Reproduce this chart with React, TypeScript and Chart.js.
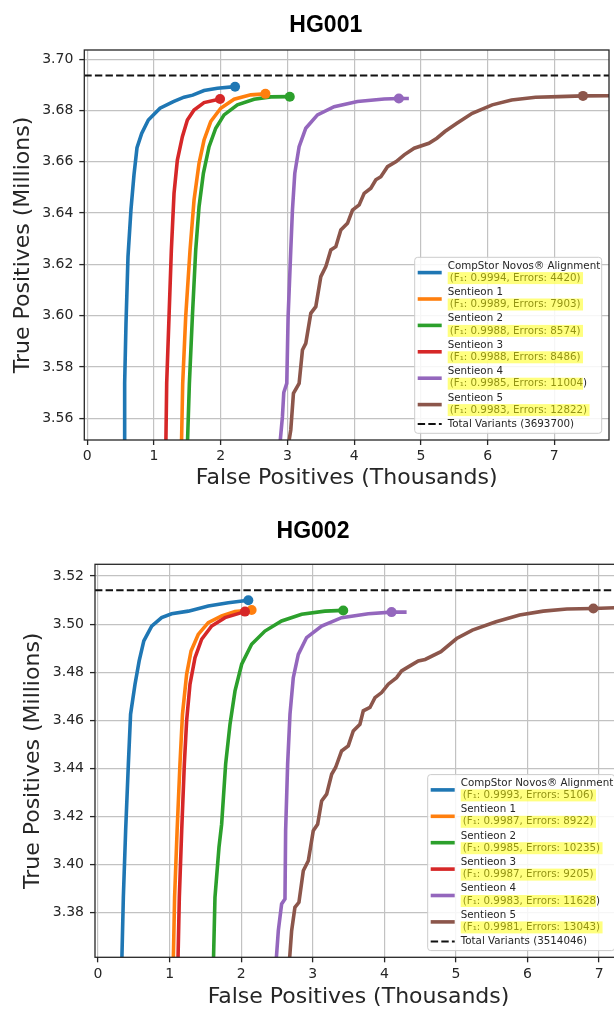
import React, { useEffect, useRef } from "react";
import { Chart, registerables } from "chart.js";

Chart.register(...registerables);

type Pt = [number, number];

// x: false positives (thousands), y: true positives (millions)
const xTicks = [0, 1, 2, 3, 4, 5, 6, 7];
const hg001YTicks = [3.56, 3.58, 3.6, 3.62, 3.64, 3.66, 3.68, 3.7];
const hg002YTicks = [3.38, 3.4, 3.42, 3.44, 3.46, 3.48, 3.5, 3.52];

const seriesNames = [
  "CompStor Novos® Alignment",
  "Sentieon 1",
  "Sentieon 2",
  "Sentieon 3",
  "Sentieon 4",
  "Sentieon 5",
];
const seriesColors = ["#1f77b4", "#ff7f0e", "#2ca02c", "#d62728", "#9467bd", "#8c564b"];
// the yellow marking stops before the closing bracket for Sentieon 4
const highlightCoversAll = [true, true, true, true, false, true];

// ---- HG001 ----
const hg001CompStor: Pt[] = [
  [0.553, 3.545], [0.56, 3.5736], [0.58, 3.597], [0.61, 3.623], [0.655, 3.6415],
  [0.7, 3.655], [0.745, 3.6655], [0.815, 3.6711], [0.915, 3.6763], [1.09, 3.6809],
  [1.29, 3.6835], [1.45, 3.6852], [1.58, 3.686], [1.75, 3.6878], [1.95, 3.6887], [2.215, 3.6893],
];
const hg001Sentieon1: Pt[] = [
  [1.408, 3.545], [1.43, 3.5736], [1.475, 3.5996], [1.54, 3.6256], [1.6, 3.6451],
  [1.675, 3.6594], [1.75, 3.6685], [1.85, 3.6757], [2.0, 3.6809], [2.2, 3.6844],
  [2.45, 3.6861], [2.67, 3.6865],
];
const hg001Sentieon2: Pt[] = [
  [1.495, 3.545], [1.53, 3.5736], [1.575, 3.5996], [1.625, 3.6256], [1.675, 3.6425],
  [1.74, 3.6555], [1.825, 3.6659], [1.925, 3.6731], [2.05, 3.6783], [2.25, 3.6822],
  [2.5, 3.6844], [2.75, 3.6853], [3.035, 3.6854],
];
const hg001Sentieon3: Pt[] = [
  [1.175, 3.545], [1.19, 3.5736], [1.225, 3.5996], [1.26, 3.6256], [1.3, 3.6477],
  [1.35, 3.6607], [1.425, 3.6698], [1.5, 3.6763], [1.6, 3.6802], [1.75, 3.6831], [1.99, 3.6845],
];
const hg001Sentieon4: Pt[] = [
  [2.87, 3.545], [2.925, 3.5606], [2.945, 3.57], [2.99, 3.5736], [3.01, 3.5996],
  [3.05, 3.6256], [3.075, 3.6412], [3.11, 3.6555], [3.175, 3.6659], [3.275, 3.6731],
  [3.45, 3.6783], [3.7, 3.6815], [4.05, 3.6835], [4.45, 3.6845], [4.67, 3.6847], [4.82, 3.6847],
];
const hg001Sentieon5: Pt[] = [
  [2.985, 3.545], [3.05, 3.5554], [3.09, 3.5697], [3.175, 3.5736], [3.225, 3.5866],
  [3.275, 3.5892], [3.35, 3.6009], [3.425, 3.6035], [3.5, 3.6152], [3.575, 3.6191],
  [3.65, 3.6256], [3.725, 3.6269], [3.8, 3.6334], [3.9, 3.636], [3.975, 3.6412],
  [4.075, 3.6432], [4.15, 3.6477], [4.25, 3.6497], [4.325, 3.653], [4.4, 3.6542],
  [4.5, 3.6581], [4.63, 3.6601], [4.75, 3.6627], [4.9, 3.6653], [5.12, 3.6672],
  [5.24, 3.6692], [5.36, 3.6718], [5.54, 3.675], [5.77, 3.6789], [6.07, 3.6822],
  [6.36, 3.6841], [6.72, 3.6852], [7.07, 3.6854], [7.43, 3.6857], [7.9, 3.6858],
];
const hg001Markers: Pt[] = [
  [2.215, 3.6893], [2.67, 3.6865], [3.035, 3.6854], [1.99, 3.6845], [4.67, 3.6847], [7.43, 3.6857],
];
const hg001F1 = ["0.9994", "0.9989", "0.9988", "0.9988", "0.9985", "0.9983"];
const hg001Errors = [4420, 7903, 8574, 8486, 11004, 12822];
const hg001Total = 3693700;

// ---- HG002 ----
const hg002CompStor: Pt[] = [
  [0.325, 3.35], [0.354, 3.3863], [0.386, 3.414], [0.424, 3.4417], [0.455, 3.4625],
  [0.517, 3.475], [0.575, 3.4847], [0.64, 3.493], [0.75, 3.4992], [0.889, 3.5027],
  [1.029, 3.5043], [1.262, 3.5054], [1.541, 3.5075], [1.82, 3.5089], [2.1, 3.5099],
];
const hg002Sentieon1: Pt[] = [
  [1.045, 3.35], [1.07, 3.3863], [1.105, 3.414], [1.145, 3.4417], [1.18, 3.4625],
  [1.238, 3.4791], [1.3, 3.4888], [1.4, 3.4957], [1.54, 3.5006], [1.727, 3.5034],
  [1.913, 3.5052], [2.146, 3.5059],
];
const hg002Sentieon2: Pt[] = [
  [1.605, 3.35], [1.634, 3.3863], [1.69, 3.4071], [1.727, 3.4167], [1.783, 3.4417],
  [1.844, 3.4583], [1.914, 3.4722], [2.007, 3.4833], [2.146, 3.4916], [2.332, 3.4971],
  [2.565, 3.5013], [2.845, 3.5041], [3.17, 3.5054], [3.426, 3.5057],
];
const hg002Sentieon3: Pt[] = [
  [1.11, 3.35], [1.136, 3.3863], [1.169, 3.414], [1.206, 3.4417], [1.238, 3.4597],
  [1.285, 3.475], [1.355, 3.486], [1.448, 3.4937], [1.588, 3.4992], [1.774, 3.5027], [2.053, 3.5052],
];
const hg002Sentieon4: Pt[] = [
  [2.465, 3.35], [2.519, 3.3724], [2.565, 3.3835], [2.612, 3.3856], [2.621, 3.414],
  [2.649, 3.4417], [2.682, 3.4625], [2.728, 3.4777], [2.798, 3.4874], [2.914, 3.4944],
  [3.124, 3.4992], [3.403, 3.5027], [3.776, 3.5043], [4.101, 3.505], [4.311, 3.505],
];
const hg002Sentieon5: Pt[] = [
  [2.65, 3.35], [2.705, 3.3724], [2.751, 3.3821], [2.807, 3.3842], [2.868, 3.3973],
  [2.938, 3.4015], [3.007, 3.414], [3.068, 3.4167], [3.124, 3.4264], [3.194, 3.4292],
  [3.264, 3.4375], [3.319, 3.4403], [3.403, 3.4472], [3.496, 3.4493], [3.566, 3.4555],
  [3.659, 3.4583], [3.706, 3.4639], [3.799, 3.4653], [3.869, 3.4694], [3.962, 3.4715],
  [4.055, 3.475], [4.171, 3.4777], [4.241, 3.4805], [4.358, 3.4826], [4.474, 3.4847],
  [4.57, 3.4853], [4.79, 3.4885], [5.01, 3.494], [5.23, 3.4975], [5.56, 3.501],
  [5.89, 3.5038], [6.22, 3.5054], [6.55, 3.5063], [6.92, 3.5065], [7.4, 3.507],
];
const hg002Markers: Pt[] = [
  [2.1, 3.5099], [2.146, 3.5059], [3.426, 3.5057], [2.053, 3.5052], [4.101, 3.505], [6.92, 3.5065],
];
const hg002F1 = ["0.9993", "0.9987", "0.9985", "0.9987", "0.9983", "0.9981"];
const hg002Errors = [5106, 8922, 10235, 9205, 11628, 13043];
const hg002Total = 3514046;

const FONT = '"DejaVu Sans", sans-serif';
const INK = "#262626";
const GRID = "#c2c2c2";
const LINE_W = 3.6;

interface Panel {
  curves: Pt[][];
  markers: Pt[];
  f1: string[];
  errors: number[];
  total: number;
  xRange: Pt;
  yRange: Pt;
  yTicks: number[];
  yAxisWidth: number;
  xAxisHeight: number;
  yTitlePad: number;
  padding: { top: number; right: number; bottom: number; left: number };
}

const hg001Panel: Panel = {
  curves: [hg001CompStor, hg001Sentieon1, hg001Sentieon2, hg001Sentieon3, hg001Sentieon4, hg001Sentieon5],
  markers: hg001Markers,
  f1: hg001F1,
  errors: hg001Errors,
  total: hg001Total,
  xRange: [-0.045, 7.82],
  yRange: [3.5515, 3.7036],
  yTicks: hg001YTicks,
  yAxisWidth: 84.3,
  xAxisHeight: 51.5,
  yTitlePad: 10.1,
  padding: { top: 50, right: 5, bottom: 8.5, left: 0 },
};

const hg002Panel: Panel = {
  curves: [hg002CompStor, hg002Sentieon1, hg002Sentieon2, hg002Sentieon3, hg002Sentieon4, hg002Sentieon5],
  markers: hg002Markers,
  f1: hg002F1,
  errors: hg002Errors,
  total: hg002Total,
  xRange: [-0.042, 7.32],
  yRange: [3.3613, 3.5249],
  yTicks: hg002YTicks,
  yAxisWidth: 95,
  xAxisHeight: 53.2,
  yTitlePad: 20.1,
  padding: { top: 64.3, right: 8, bottom: 9.5, left: 0 },
};

function frameAndLegend(panel: Panel) {
  return {
    id: "frameAndLegend",
    afterDraw(chart: any) {
      const { ctx, chartArea: a } = chart;
      ctx.save();
      ctx.setLineDash([]);
      ctx.strokeStyle = INK;
      ctx.lineWidth = 1.3;
      ctx.strokeRect(a.left, a.top, a.right - a.left, a.bottom - a.top);

      const w = 187;
      const h = 176;
      const bx = a.right - 7.3 - w;
      const by = a.bottom - 6.7 - h;
      ctx.beginPath();
      ctx.roundRect(bx, by, w, h, 3);
      ctx.fillStyle = "rgba(255,255,255,0.85)";
      ctx.fill();
      ctx.strokeStyle = "#cccccc";
      ctx.lineWidth = 1;
      ctx.stroke();

      ctx.font = `10.3px ${FONT}`;
      ctx.textBaseline = "middle";
      ctx.textAlign = "left";
      seriesNames.forEach((name, i) => {
        const cy = by + 15.3 + i * 26.4;
        ctx.strokeStyle = seriesColors[i];
        ctx.lineWidth = LINE_W;
        ctx.beginPath();
        ctx.moveTo(bx + 3, cy);
        ctx.lineTo(bx + 27, cy);
        ctx.stroke();
        ctx.fillStyle = INK;
        ctx.fillText(name, bx + 33, cy - 6.7);
        const stat = `(F₁: ${panel.f1[i]}, Errors: ${panel.errors[i]})`;
        ctx.fillText(stat, bx + 35, cy + 5.5);
        const all = highlightCoversAll[i];
        const tw = ctx.measureText(all ? stat : stat.slice(0, -1)).width;
        ctx.fillStyle = "rgba(255,255,0,0.5)";
        ctx.fillRect(bx + 33, cy - 0.5, tw + (all ? 4.5 : 2), 12);
      });

      const ty = by + 15.3 + 5 * 26.4 + 19.5;
      ctx.strokeStyle = "#111";
      ctx.lineWidth = 2;
      ctx.setLineDash([7.4, 3.2]);
      ctx.beginPath();
      ctx.moveTo(bx + 3, ty);
      ctx.lineTo(bx + 27, ty);
      ctx.stroke();
      ctx.setLineDash([]);
      ctx.fillStyle = INK;
      ctx.fillText(`Total Variants (${panel.total})`, bx + 33, ty);
      ctx.restore();
    },
  };
}

function buildConfig(panel: Panel): any {
  const toXY = (pts: Pt[]) => pts.map(([x, y]) => ({ x, y }));
  const lines = panel.curves.map((pts, i) => ({
    data: toXY(pts),
    borderColor: seriesColors[i],
    backgroundColor: seriesColors[i],
    borderWidth: LINE_W,
    pointRadius: 0,
    showLine: true,
    tension: 0,
    clip: 0,
  }));
  const dots = panel.markers.map((pt, i) => ({
    data: toXY([pt]),
    backgroundColor: seriesColors[i],
    borderWidth: 0,
    pointRadius: 5,
    showLine: false,
    clip: 0,
  }));
  const totalY = panel.total / 1e6;
  const totalLine = {
    data: [
      { x: panel.xRange[0], y: totalY },
      { x: panel.xRange[1], y: totalY },
    ],
    borderColor: "#111",
    borderWidth: 2,
    borderDash: [7.4, 3.2],
    pointRadius: 0,
    showLine: true,
    clip: 0,
  };
  // Chart.js paints the first dataset last, so reverse to get later series on top
  const datasets = [...lines, ...dots, totalLine].reverse();

  const tickFont = { family: FONT, size: 14 };
  const titleFont = { family: FONT, size: 22, lineHeight: 1.2 };
  const grid = {
    color: GRID,
    lineWidth: 1.2,
    drawTicks: true,
    tickLength: 5,
    tickColor: INK,
    tickWidth: 1.3,
  };

  return {
    type: "scatter",
    data: { datasets },
    plugins: [frameAndLegend(panel)],
    options: {
      responsive: false,
      animation: false,
      events: [],
      layout: { padding: panel.padding },
      plugins: { legend: { display: false }, tooltip: { enabled: false }, title: { display: false } },
      scales: {
        x: {
          type: "linear",
          min: panel.xRange[0],
          max: panel.xRange[1],
          afterBuildTicks: (s: any) => {
            s.ticks = xTicks.map((value) => ({ value }));
          },
          afterFit: (s: any) => {
            s.height = panel.xAxisHeight;
          },
          grid,
          border: { display: false },
          ticks: {
            font: tickFont,
            color: INK,
            padding: 3.4,
            maxRotation: 0,
            autoSkip: false,
            callback: (v: number) => String(v),
          },
          title: {
            display: true,
            text: "False Positives (Thousands)",
            font: titleFont,
            color: INK,
            padding: { top: 0, bottom: 0 },
          },
        },
        y: {
          type: "linear",
          min: panel.yRange[0],
          max: panel.yRange[1],
          afterBuildTicks: (s: any) => {
            s.ticks = panel.yTicks.map((value) => ({ value }));
          },
          afterFit: (s: any) => {
            s.width = panel.yAxisWidth;
          },
          grid,
          border: { display: false },
          ticks: {
            font: tickFont,
            color: INK,
            padding: 6,
            autoSkip: false,
            callback: (v: number) => Number(v).toFixed(2),
          },
          title: {
            display: true,
            text: "True Positives (Millions)",
            font: titleFont,
            color: INK,
            padding: { top: panel.yTitlePad, bottom: 0 },
          },
        },
      },
    },
  };
}

function RocChart({ panel, width, height }: { panel: Panel; width: number; height: number }) {
  const ref = useRef<HTMLCanvasElement | null>(null);
  useEffect(() => {
    if (!ref.current) return;
    const chart = new Chart(ref.current, buildConfig(panel));
    return () => chart.destroy();
  }, [panel]);
  return <canvas ref={ref} width={width} height={height} style={{ width, height, display: "block" }} />;
}

const titleStyle: React.CSSProperties = {
  position: "absolute",
  width: 200,
  textAlign: "center",
  font: 'bold 23px "Liberation Sans", Arial, sans-serif',
  lineHeight: "23px",
  color: "#000",
  zIndex: 2,
};

export default function App() {
  return (
    <div
      style={{
        position: "absolute",
        left: 0,
        top: 0,
        width: 614,
        height: 1009,
        overflow: "hidden",
        background: "#fff",
      }}
    >
      <div style={{ position: "absolute", left: 0, top: 0 }}>
        <RocChart panel={hg001Panel} width={614} height={500} />
      </div>
      <div style={{ position: "absolute", left: 0, top: 500 }}>
        <RocChart panel={hg002Panel} width={630} height={520} />
      </div>
      <div style={{ ...titleStyle, left: 225.8, top: 13.3 }}>HG001</div>
      <div style={{ ...titleStyle, left: 213, top: 518.8 }}>HG002</div>
    </div>
  );
}
